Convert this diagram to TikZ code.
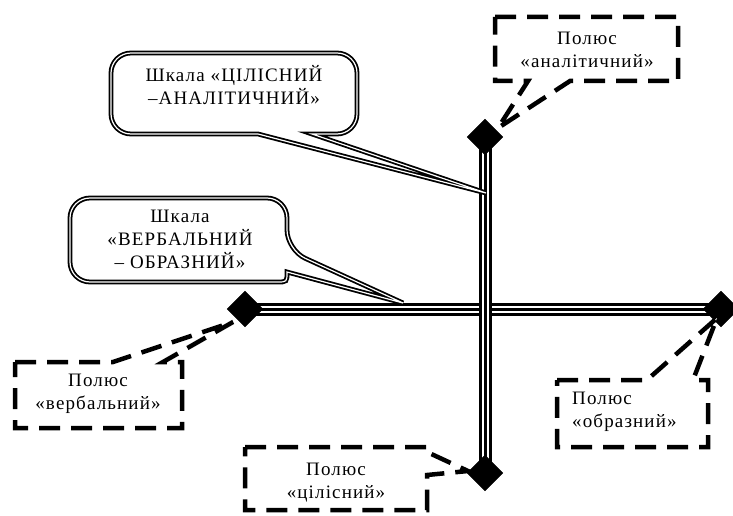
\documentclass[tikz,border=0pt]{standalone}
\usepackage{fontspec}
\setmainfont{Liberation Serif}[LetterSpace=6]
\usetikzlibrary{shapes.geometric}
\pgfdeclarelayer{background}
\pgfsetlayers{background,main}

\tikzset{
  txt/.style={font=\fontsize{19}{23}\selectfont, align=center, inner sep=0pt},
  pole/.style={diamond, fill=black, draw=black, minimum width=36pt, minimum height=36pt, inner sep=0pt},
  axisline/.style={draw=black, line width=13pt,
    postaction={draw=white, line width=7pt},
    postaction={draw=black, line width=3pt}},
  bubble/.style={draw=black, line width=1.8pt, double=white, double distance=1.2pt, fill=white},
  dashbox/.style={draw=black, line width=4.5pt, dash pattern=on 21pt off 11pt, fill=white}
}

\begin{document}
\begin{tikzpicture}[x=1pt, y=-1pt]
\useasboundingbox (0,0) rectangle (733,516);

% the four poles of the two scales
\node[pole] (poleA) at (485,137) {};
\node[pole] (poleH) at (485,473) {};
\node[pole] (poleV) at (245,309) {};
\node[pole] (poleF) at (721,309) {};

% the two scales, drawn under the poles
\begin{pgfonlayer}{background}
  \draw[axisline] (poleV.center) -- (poleF.center);
  \draw[axisline] (poleA.center) -- (poleH.center);
\end{pgfonlayer}

% points where the callouts end
\coordinate (tipA) at (498,128);
\coordinate (tipV) at (233,322);
\coordinate (tipH) at (468,471);
\coordinate (tipF) at (717,318);
\coordinate (tipBA) at (486,193);
\coordinate (tipBV) at (403,303);

% speech bubble: holistic - analytic scale
\draw[bubble] (180,134) [rounded corners=20pt] -- (111,134) -- (111,53) -- (357,53) -- (357,134)
  [sharp corners] -- (312,134) -- (tipBA) -- (258,134) -- cycle;
\node[txt, anchor=base] (scaleHA) at (234,105) {Шкала «ЦІЛІСНИЙ\\–АНАЛІТИЧНИЙ»};

% speech bubble: verbal - figurative scale
\draw[bubble] (70,240) [rounded corners=20pt] -- (70,198) -- (287,198) -- (287,250)
  [sharp corners] -- (tipBV) -- (287,272) .. controls (287,282) .. (277,282)
  [rounded corners=20pt] -- (70,282) -- cycle;
\node[txt, anchor=base] (scaleVF) at (180,268) {Шкала\\«ВЕРБАЛЬНИЙ\\– ОБРАЗНИЙ»};

% dashed callouts for the poles
\draw[dashbox] (495,17) -- (678,17) -- (678,81) -- (570,81) -- (tipA) -- (528,81) -- (495,81) -- cycle;
\node[txt, anchor=base] (labA) at (587,68) {Полюс\\«аналітичний»};

\draw[dashbox] (15,362) -- (113,362) -- (tipV) -- (163,362) -- (182,362) -- (182,428) -- (15,428) -- cycle;
\node[txt, anchor=base] (labV) at (98,409) {Полюс\\«вербальний»};

\draw[dashbox] (245,447) -- (427,447) -- (427,452) -- (tipH) -- (427,475) -- (427,510) -- (245,510) -- cycle;
\node[txt, anchor=base] (labH) at (336,498) {Полюс\\«цілісний»};

\draw[dashbox] (557,380) -- (647,380) -- (tipF) -- (693,380) -- (708,380) -- (708,447) -- (557,447) -- cycle;
\node[txt, anchor=base west, align=left] (labF) at (572,427) {Полюс\\«образний»};
\end{tikzpicture}
\end{document}
